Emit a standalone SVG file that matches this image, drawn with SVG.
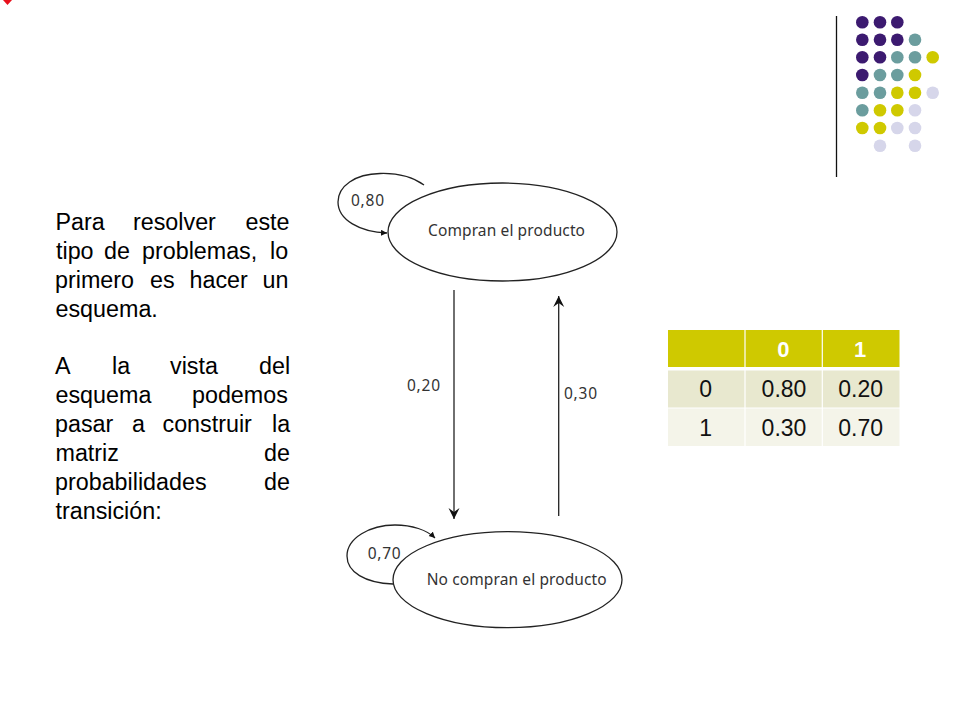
<svg xmlns="http://www.w3.org/2000/svg" width="960" height="720" viewBox="0 0 960 720">
<defs>
<marker id="barb" markerUnits="userSpaceOnUse" markerWidth="14" markerHeight="14" refX="11" refY="6" orient="auto"><path d="M0,0.5 L11,6 L0,11.5 L4,6 Z" fill="#111"/></marker>
<marker id="small" markerUnits="userSpaceOnUse" markerWidth="8" markerHeight="8" refX="6" refY="3" orient="auto"><path d="M0,0 L6,3 L0,6 Z" fill="#111"/></marker>
</defs>
<style>
.b{font:23.3px "Liberation Sans",Arial,sans-serif;fill:#000}
.l{font:15.5px "Noto Sans",Tahoma,sans-serif;fill:#333}
.n{fill:#fff;stroke:#222;stroke-width:1.3}
.c{fill:none;stroke:#222;stroke-width:1.3}
.t{font:23px "Liberation Sans",Arial,sans-serif;fill:#111;text-anchor:middle}
.h{font:bold 22px "Liberation Sans",Arial,sans-serif;fill:#fff;text-anchor:middle}
.p{fill:#3c1a70}.e{fill:#6b9d9e}.y{fill:#cfc900}.v{fill:#d6d6ea}
</style>
<rect width="960" height="720" fill="#fff"/>
<polygon points="3,0 12,0 7.5,5" fill="#e8101c"/>
<g id="decor">
<line x1="836.5" y1="16" x2="836.5" y2="177" stroke="#111" stroke-width="1.3"/>
<circle class="p" cx="862.3" cy="22.3" r="6.3"/><circle class="p" cx="880" cy="22.3" r="6.3"/><circle class="p" cx="897.3" cy="22.3" r="6.3"/>
<circle class="p" cx="862.3" cy="39.7" r="6.3"/><circle class="p" cx="880" cy="39.7" r="6.3"/><circle class="p" cx="897.3" cy="39.7" r="6.3"/><circle class="e" cx="915" cy="39.7" r="6.3"/>
<circle class="p" cx="862.3" cy="57.3" r="6.3"/><circle class="p" cx="880" cy="57.3" r="6.3"/><circle class="e" cx="897.3" cy="57.3" r="6.3"/><circle class="e" cx="915" cy="57.3" r="6.3"/><circle class="y" cx="932.7" cy="57.3" r="6.3"/>
<circle class="p" cx="862.3" cy="75" r="6.3"/><circle class="e" cx="880" cy="75" r="6.3"/><circle class="e" cx="897.3" cy="75" r="6.3"/><circle class="y" cx="915" cy="75" r="6.3"/>
<circle class="e" cx="862.3" cy="92.7" r="6.3"/><circle class="e" cx="880" cy="92.7" r="6.3"/><circle class="y" cx="897.3" cy="92.7" r="6.3"/><circle class="y" cx="915" cy="92.7" r="6.3"/><circle class="v" cx="932.7" cy="92.7" r="6.3"/>
<circle class="e" cx="862.3" cy="110.3" r="6.3"/><circle class="y" cx="880" cy="110.3" r="6.3"/><circle class="y" cx="897.3" cy="110.3" r="6.3"/><circle class="v" cx="915" cy="110.3" r="6.3"/>
<circle class="y" cx="862.3" cy="128" r="6.3"/><circle class="y" cx="880" cy="128" r="6.3"/><circle class="v" cx="897.3" cy="128" r="6.3"/><circle class="v" cx="915" cy="128" r="6.3"/>
<circle class="v" cx="880" cy="145.7" r="6.3"/><circle class="v" cx="915" cy="145.7" r="6.3"/>
</g>
<g id="body-text">
<text class="b" y="229.5"><tspan x="55.5">Para</tspan><tspan x="133">resolver</tspan><tspan x="245.5">este</tspan></text>
<text class="b" y="258.5"><tspan x="56">tipo</tspan><tspan x="104">de</tspan><tspan x="142">problemas,</tspan><tspan x="270">lo</tspan></text>
<text class="b" y="287.5"><tspan x="55">primero</tspan><tspan x="150">es</tspan><tspan x="189.5">hacer</tspan><tspan x="262.5">un</tspan></text>
<text class="b" y="316.5"><tspan x="55.5">esquema.</tspan></text>
<text class="b" y="374"><tspan x="55">A</tspan><tspan x="112">la</tspan><tspan x="170">vista</tspan><tspan x="259">del</tspan></text>
<text class="b" y="403"><tspan x="55.5">esquema</tspan><tspan x="192">podemos</tspan></text>
<text class="b" y="432"><tspan x="55">pasar</tspan><tspan x="132">a</tspan><tspan x="162.5">construir</tspan><tspan x="272">la</tspan></text>
<text class="b" y="461"><tspan x="55.5">matriz</tspan><tspan x="264">de</tspan></text>
<text class="b" y="489.5"><tspan x="55">probabilidades</tspan><tspan x="264">de</tspan></text>
<text class="b" y="518.5"><tspan x="55.5">transición:</tspan></text>
</g>
<g id="connectors">
<path class="c" d="M424,185 C410,175 395,173 380,173.5 C355,174 338,186 338,202 C338,220 360,232 387,233" marker-end="url(#small)"/>
<path class="c" d="M393,584 C365,583 347,572 347,556 C347,538 370,525 395,525 C412,525 427,530 435,538" marker-end="url(#small)"/>
<line class="c" x1="454" y1="290" x2="454" y2="519" marker-end="url(#barb)"/>
<line class="c" x1="558.7" y1="516" x2="558.7" y2="296" marker-end="url(#barb)"/>
</g>
<g id="node-compran">
<ellipse class="n" cx="502.5" cy="232" rx="114.5" ry="49"/>
<text class="l" x="428" y="235.5" textLength="157">Compran el producto</text>
</g>
<g id="node-no-compran">
<ellipse class="n" cx="507.5" cy="579.7" rx="114.5" ry="48"/>
<text class="l" x="426.7" y="585" textLength="180">No compran el producto</text>
</g>
<g id="labels">
<text class="l" x="351" y="205.5" textLength="33">0,80</text>
<text class="l" x="367.7" y="559" textLength="33">0,70</text>
<text class="l" x="407" y="390.5" textLength="33">0,20</text>
<text class="l" x="564" y="399" textLength="33">0,30</text>
</g>
<g id="table">
<rect x="668" y="330" width="231.5" height="37" fill="#cfc900"/>
<rect x="668" y="370.5" width="231.5" height="37" fill="#e8e8cf"/>
<rect x="668" y="408.5" width="231.5" height="37.5" fill="#f4f4e9"/>
<line x1="745" y1="330" x2="745" y2="446" stroke="#fff" stroke-width="1.2"/>
<line x1="822.3" y1="330" x2="822.3" y2="446" stroke="#fff" stroke-width="1.2"/>
<text class="h" x="783.3" y="357">0</text><text class="h" x="860" y="357">1</text>
<text class="t" x="705.7" y="397">0</text><text class="t" x="784" y="397">0.80</text><text class="t" x="860.7" y="397">0.20</text>
<text class="t" x="705.7" y="436">1</text><text class="t" x="784" y="436">0.30</text><text class="t" x="860.7" y="436">0.70</text>
</g>
</svg>
